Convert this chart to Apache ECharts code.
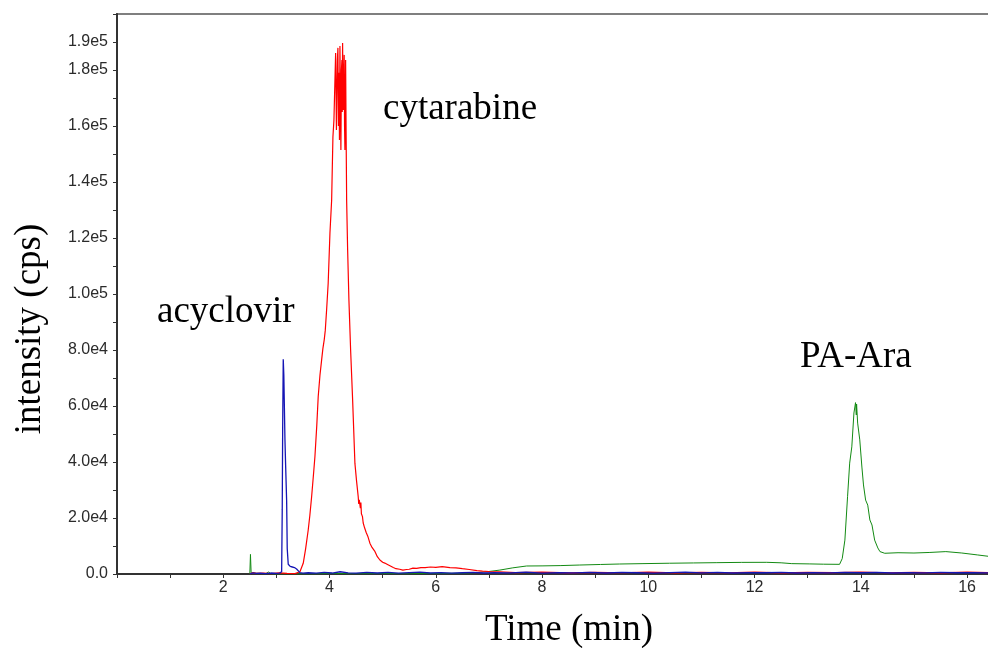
<!DOCTYPE html>
<html>
<head>
<meta charset="utf-8">
<script src="https://cdn.jsdelivr.net/npm/echarts@6/dist/echarts.min.js"></script>
<style>html,body{margin:0;padding:0;background:#fff}#c{width:988px;height:648px}</style>
</head>
<body>
<div id="c"></div>
<script>
// [time (min), intensity (cps)]
var acyclovirPoints = [[2.50,0],[2.56,400],[2.62,200],[2.70,300],[2.80,100],[2.90,350],[3.00,200],[3.06,300],[3.090,250],[3.099,800],[3.110,22900],[3.118,51400],[3.129,76700],[3.140,71000],[3.150,60000],[3.161,48000],[3.175,38000],[3.193,26000],[3.204,9000],[3.223,3500],[3.26,2700],[3.30,2500],[3.34,2300],[3.38,1800],[3.443,500],[3.50,300],[3.60,450],[3.75,300],[3.90,600],[4.05,350],[4.20,800],[4.35,400],[4.50,300],[4.70,550],[4.90,350],[5.10,600],[5.30,300],[5.50,500],[5.70,650],[5.90,350],[6.10,500],[6.30,300],[6.50,450],[6.70,600],[6.90,350],[7.10,500],[7.40,400],[7.70,650],[8.00,300],[8.30,500],[8.60,400],[8.90,550],[9.20,350],[9.50,600],[9.80,450],[10.10,300],[10.40,500],[10.70,650],[11.00,400],[11.30,550],[11.60,350],[11.90,500],[12.20,450],[12.50,600],[12.80,350],[13.10,500],[13.40,400],[13.70,550],[14.00,450],[14.30,600],[14.60,350],[14.90,500],[15.20,400],[15.50,600],[15.80,450],[16.10,500],[16.45,400]];
var cytarabinePoints = [[2.50,0],[2.56,500],[2.62,200],[2.75,300],[2.90,150],[3.05,400],[3.20,200],[3.35,150],[3.443,820],[3.505,3820],[3.55,9000],[3.599,15700],[3.63,21000],[3.663,27600],[3.70,36000],[3.725,41900],[3.76,53000],[3.787,63300],[3.82,71000],[3.851,76400],[3.875,80500],[3.900,83600],[3.92,87000],[3.945,94300],[3.975,103900],[4.008,121800],[4.040,133600],[4.064,156100],[4.083,162100],[4.100,175000],[4.115,186100],[4.130,158600],[4.148,183600],[4.158,187900],[4.168,160000],[4.177,179000],[4.187,155000],[4.196,188600],[4.205,170000],[4.214,151400],[4.224,180000],[4.233,183600],[4.240,165000],[4.246,189600],[4.254,172000],[4.261,165700],[4.268,178000],[4.276,185400],[4.283,160000],[4.290,151400],[4.297,170000],[4.303,183600],[4.312,158000],[4.322,133600],[4.341,115700],[4.365,97900],[4.397,80000],[4.435,62100],[4.478,39500],[4.51,33000],[4.540,27600],[4.55,25000],[4.56,26500],[4.58,23500],[4.59,25500],[4.60,21500],[4.62,20500],[4.634,18200],[4.65,18800],[4.66,16500],[4.68,16900],[4.69,14800],[4.71,15000],[4.72,13500],[4.74,13000],[4.760,11000],[4.78,11500],[4.80,9500],[4.83,9800],[4.85,8200],[4.88,7600],[4.90,6200],[4.92,6500],[4.948,5000],[4.97,5200],[5.00,4200],[5.04,3900],[5.07,3200],[5.10,3300],[5.136,2600],[5.20,2300],[5.25,1900],[5.32,1700],[5.381,1400],[5.45,1600],[5.50,1700],[5.57,2100],[5.639,2000],[5.72,2300],[5.80,2300],[5.90,2500],[6.00,2400],[6.12,2600],[6.265,2300],[6.38,2200],[6.50,1900],[6.63,1600],[6.773,1200],[6.88,1000],[7.00,900],[7.206,800],[7.5,500],[8.0,650],[8.5,400],[9.0,600],[9.5,450],[10.0,700],[10.5,400],[11.0,600],[11.5,450],[12.0,650],[12.5,400],[13.0,600],[13.5,500],[14.0,700],[14.5,450],[15.0,600],[15.5,400],[16.0,650],[16.45,500]];
var paAraPoints = [[2.50,0],[2.512,7000],[2.525,300],[2.55,0],[2.70,200],[2.80,100],[2.85,700],[2.90,150],[3.00,0],[3.30,100],[3.60,0],[4.00,200],[4.50,100],[5.00,200],[5.50,100],[6.00,200],[6.50,300],[6.77,500],[7.00,900],[7.206,1400],[7.45,2200],[7.71,2860],[8.00,2900],[8.34,3000],[8.70,3200],[9.10,3400],[9.46,3570],[9.90,3700],[10.40,3850],[10.85,3950],[11.29,4050],[11.75,4150],[12.23,4170],[12.50,4000],[12.70,3700],[13.04,3600],[13.30,3500],[13.60,3450],[13.65,5500],[13.70,12100],[13.75,27600],[13.79,39600],[13.83,45400],[13.87,57500],[13.90,61200],[13.915,56800],[13.92,60700],[13.94,53900],[13.98,47900],[14.02,38200],[14.05,31800],[14.09,26400],[14.13,24600],[14.17,19300],[14.21,17500],[14.26,12100],[14.32,9300],[14.36,8000],[14.45,7400],[14.7,7600],[15.0,7500],[15.3,7700],[15.6,8000],[15.9,7500],[16.2,6800],[16.45,6200]];
var xTickLabels = ['2','4','6','8','10','12','14','16'];
var yTickLabels = ['0.0','2.0e4','4.0e4','6.0e4','8.0e4','1.0e5','1.2e5','1.4e5','1.6e5','1.8e5','1.9e5'];
var yLabelValues = [0,20000,40000,60000,80000,100000,120000,140000,160000,180000,190000];

var chart = echarts.init(document.getElementById('c'), null, {renderer:'canvas'});
var serif = '"Liberation Serif", "Times New Roman", serif';
var sans = '"Liberation Sans", Arial, sans-serif';
chart.setOption({
  animation:false,
  backgroundColor:'#fff',
  grid:{left:117, top:14, right:-3, bottom:74, show:true, borderColor:'#7f7f7f', borderWidth:2, containLabel:false, outerBoundsMode:'none'},
  xAxis:{
    type:'value', min:0, max:16.45, interval:1,
    name:'Time (min)', nameLocation:'middle', nameGap:38,
    nameTextStyle:{fontFamily:serif, fontSize:37, color:'#000', padding:[0,0,0,30]},
    axisLine:{lineStyle:{color:'#333', width:2}},
    axisTick:{show:true, length:4, lineStyle:{color:'#333'}},
    splitLine:{show:false},
    axisLabel:{interval:0, margin:6, fontFamily:sans, fontSize:16, color:'#2b2b2b',
      showMaxLabel:false,
      formatter:function(v){var s=String(Math.round(v)); return xTickLabels.indexOf(s)>=0 && Math.abs(v-Math.round(v))<1e-6 ? s : '';}}
  },
  yAxis:{
    type:'value', min:0, max:200000, interval:10000,
    name:'intensity (cps)', nameLocation:'middle', nameGap:68,
    nameTextStyle:{fontFamily:serif, fontSize:37, color:'#000', padding:[0,70,0,0]},
    axisLine:{show:true, lineStyle:{color:'#333', width:2}},
    axisTick:{show:true, length:4, lineStyle:{color:'#333'}},
    splitLine:{show:false},
    axisLabel:{interval:0, margin:9, fontFamily:sans, fontSize:16, color:'#2b2b2b',
      formatter:function(v){var i=yLabelValues.indexOf(Math.round(v)); return i>=0 ? yTickLabels[i] : '';}}
  },
  series:[
    {name:'PA-Ara', type:'line', data:paAraPoints, showSymbol:false, symbol:'none', lineStyle:{color:'#138a13', width:1}, itemStyle:{color:'#138a13'}},
    {name:'cytarabine', type:'line', data:cytarabinePoints, showSymbol:false, symbol:'none', lineStyle:{color:'#ff0000', width:1.2}, itemStyle:{color:'#ff0000'}},
    {name:'acyclovir', type:'line', data:acyclovirPoints, showSymbol:false, symbol:'none', lineStyle:{color:'#1515b5', width:1.3}, itemStyle:{color:'#1515b5'}}
  ],
  graphic:[
    {type:'text', left:383, top:91, style:{text:'cytarabine', fontFamily:serif, fontSize:37, fill:'#000'}},
    {type:'text', left:157, top:294, style:{text:'acyclovir', fontFamily:serif, fontSize:37, fill:'#000'}},
    {type:'text', left:800, top:339, style:{text:'PA-Ara', fontFamily:serif, fontSize:37, fill:'#000'}}
  ]
});
</script>
</body>
</html>
